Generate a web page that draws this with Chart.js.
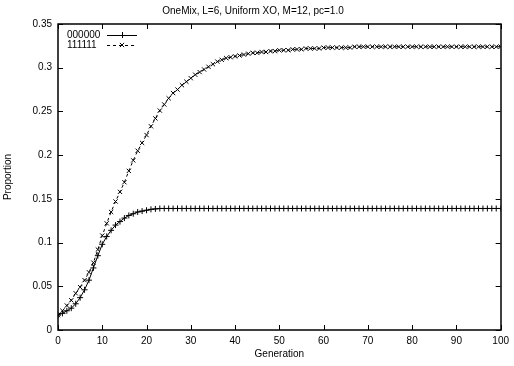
<!DOCTYPE html>
<html>
<head>
<meta charset="utf-8">
<script src="https://cdn.jsdelivr.net/npm/chart.js@4/dist/chart.umd.min.js"></script>
<style>
  html, body { margin: 0; padding: 0; background: #fff; }
  #wrap { width: 514px; height: 366px; }
</style>
</head>
<body>
<div id="wrap"><canvas id="myChart" width="514" height="366"></canvas></div>
<script>
const generations = [
  0, 1, 2, 3, 4, 5, 6, 7, 8, 9, 10, 11, 12, 13, 14, 15, 16, 17, 18, 19,
  20, 21, 22, 23, 24, 25, 26, 27, 28, 29, 30, 31, 32, 33, 34, 35, 36, 37, 38, 39,
  40, 41, 42, 43, 44, 45, 46, 47, 48, 49, 50, 51, 52, 53, 54, 55, 56, 57, 58, 59,
  60, 61, 62, 63, 64, 65, 66, 67, 68, 69, 70, 71, 72, 73, 74, 75, 76, 77, 78, 79,
  80, 81, 82, 83, 84, 85, 86, 87, 88, 89, 90, 91, 92, 93, 94, 95, 96, 97, 98, 99, 100
];

const zeros = [
  0.017, 0.019, 0.022, 0.025, 0.030, 0.037, 0.046, 0.057, 0.071, 0.085,
  0.098, 0.107, 0.114, 0.120, 0.124, 0.128, 0.131, 0.133, 0.135, 0.136,
  0.137, 0.138, 0.1385, 0.139, 0.139, 0.139, 0.139, 0.139, 0.139, 0.139,
  0.139, 0.139, 0.139, 0.139, 0.139, 0.139, 0.139, 0.139, 0.139, 0.139,
  0.139, 0.139, 0.139, 0.139, 0.139, 0.139, 0.139, 0.139, 0.139, 0.139,
  0.139, 0.139, 0.139, 0.139, 0.139, 0.139, 0.139, 0.139, 0.139, 0.139,
  0.139, 0.139, 0.139, 0.139, 0.139, 0.139, 0.139, 0.139, 0.139, 0.139,
  0.139, 0.139, 0.139, 0.139, 0.139, 0.139, 0.139, 0.139, 0.139, 0.139,
  0.139, 0.139, 0.139, 0.139, 0.139, 0.139, 0.139, 0.139, 0.139, 0.139,
  0.139, 0.139, 0.139, 0.139, 0.139, 0.139, 0.139, 0.139, 0.139, 0.139, 0.139
];

const ones = [
  0.017, 0.022, 0.028, 0.034, 0.042, 0.049, 0.057, 0.066, 0.077, 0.092,
  0.108, 0.122, 0.135, 0.147, 0.158, 0.169, 0.182, 0.194, 0.205, 0.214,
  0.223, 0.233, 0.242, 0.251, 0.258, 0.265, 0.271, 0.275, 0.280, 0.284,
  0.288, 0.292, 0.295, 0.298, 0.301, 0.304, 0.307, 0.309, 0.311, 0.312,
  0.313, 0.314, 0.315, 0.316, 0.317, 0.317, 0.318, 0.318, 0.319, 0.319,
  0.320, 0.320, 0.320, 0.321, 0.321, 0.321, 0.322, 0.322, 0.322, 0.322,
  0.323, 0.323, 0.323, 0.323, 0.323, 0.323, 0.323, 0.324, 0.324, 0.324,
  0.324, 0.324, 0.324, 0.324, 0.324, 0.324, 0.324, 0.324, 0.324, 0.324,
  0.324, 0.324, 0.324, 0.324, 0.324, 0.324, 0.324, 0.324, 0.324, 0.324,
  0.324, 0.324, 0.324, 0.324, 0.324, 0.324, 0.324, 0.324, 0.324, 0.324, 0.324
];

const xTickValues = [0, 10, 20, 30, 40, 50, 60, 70, 80, 90, 100];
const yTickValues = [0, 0.05, 0.1, 0.15, 0.2, 0.25, 0.3, 0.35];
const yTickLabels = ["0", "0.05", "0.1", "0.15", "0.2", "0.25", "0.3", "0.35"];

const FONT = "'Liberation Sans', Arial, Helvetica, sans-serif";
Chart.defaults.font.family = FONT;
Chart.defaults.font.size = 10;
Chart.defaults.color = "#000";

// gnuplot style frame: box round the plot, ticks pointing inward on all sides
const framePlugin = {
  id: "frame",
  afterDatasetsDraw(chart) {
    const ctx = chart.ctx;
    const a = chart.chartArea;
    const xs = chart.scales.x;
    const ys = chart.scales.y;
    const len = 5;
    ctx.save();
    ctx.strokeStyle = "#000";
    ctx.lineWidth = 1;
    ctx.setLineDash([]);
    ctx.beginPath();
    xTickValues.forEach(v => {
      const px = Math.round(xs.getPixelForValue(v)) + 0.5;
      ctx.moveTo(px, a.bottom); ctx.lineTo(px, a.bottom - len);
      ctx.moveTo(px, a.top); ctx.lineTo(px, a.top + len);
    });
    yTickValues.forEach(v => {
      const py = Math.round(ys.getPixelForValue(v)) + 0.5;
      ctx.moveTo(a.left, py); ctx.lineTo(a.left + len, py);
      ctx.moveTo(a.right, py); ctx.lineTo(a.right - len, py);
    });
    ctx.stroke();
    ctx.lineWidth = 1.5;
    ctx.strokeRect(Math.round(a.left), Math.round(a.top), Math.round(a.right - a.left), Math.round(a.bottom - a.top));
    ctx.restore();
  }
};

// key inside the plot, top left
const keyPlugin = {
  id: "key",
  afterDraw(chart) {
    const ctx = chart.ctx;
    const a = chart.chartArea;
    ctx.save();
    ctx.font = "10px " + FONT;
    ctx.fillStyle = "#000";
    ctx.textBaseline = "middle";
    ctx.textAlign = "left";
    chart.data.datasets.forEach((ds, i) => {
      const y = a.top + 11 + i * 10;
      ctx.fillText(ds.label, a.left + 9, y);
      const x0 = a.left + 49, x1 = a.left + 79, xm = (x0 + x1) / 2;
      ctx.strokeStyle = "#000";
      ctx.lineWidth = 1;
      ctx.setLineDash(ds.borderDash || []);
      ctx.beginPath();
      ctx.moveTo(x0, y + 0.5); ctx.lineTo(x1, y + 0.5);
      ctx.stroke();
      ctx.setLineDash([]);
      ctx.beginPath();
      const r = 3;
      if (ds.pointStyle === "cross") {
        ctx.moveTo(xm - r, y + 0.5); ctx.lineTo(xm + r, y + 0.5);
        ctx.moveTo(xm + 0.5, y - r); ctx.lineTo(xm + 0.5, y + r);
      } else {
        ctx.moveTo(xm - r * 0.7, y - r * 0.7); ctx.lineTo(xm + r * 0.7, y + r * 0.7);
        ctx.moveTo(xm - r * 0.7, y + r * 0.7); ctx.lineTo(xm + r * 0.7, y - r * 0.7);
      }
      ctx.stroke();
    });
    ctx.restore();
  }
};

const ctx = document.getElementById("myChart").getContext("2d");
new Chart(ctx, {
  type: "line",
  data: {
    labels: generations,
    datasets: [
      {
        label: "000000",
        data: zeros,
        borderColor: "#000",
        borderWidth: 1,
        pointStyle: "cross",
        pointRadius: 3,
        pointBorderColor: "#000",
        pointBorderWidth: 1,
        tension: 0,
        fill: false
      },
      {
        label: "111111",
        data: ones,
        borderColor: "#000",
        borderWidth: 1,
        borderDash: [3, 3],
        pointStyle: "crossRot",
        pointRadius: 3,
        pointBorderColor: "#000",
        pointBorderWidth: 1,
        tension: 0,
        fill: false
      }
    ]
  },
  options: {
    responsive: false,
    animation: false,
    events: [],
    layout: { padding: { top: 0, right: 8, left: 0, bottom: 0 } },
    plugins: {
      legend: { display: false },
      tooltip: { enabled: false },
      title: {
        display: true,
        text: "OneMix, L=6, Uniform XO, M=12, pc=1.0",
        font: { size: 10, weight: "normal" },
        color: "#000",
        padding: { top: 5, bottom: 7 }
      }
    },
    scales: {
      x: {
        type: "linear",
        min: 0,
        max: 100,
        afterBuildTicks: s => { s.ticks = xTickValues.map(v => ({ value: v })); },
        afterFit: s => { s.height = 36; },
        grid: { display: false, drawTicks: false },
        border: { display: false },
        ticks: { padding: 5, maxRotation: 0, autoSkip: false },
        title: { display: true, text: "Generation", padding: { top: 0, bottom: 6 } }
      },
      y: {
        min: 0,
        max: 0.35,
        afterBuildTicks: s => { s.ticks = yTickValues.map(v => ({ value: v })); },
        afterFit: s => { s.width = 58; },
        grid: { display: false, drawTicks: false },
        border: { display: false },
        ticks: { padding: 6, autoSkip: false, callback: (v, i) => yTickLabels[i] },
        title: { display: true, text: "Proportion", padding: { top: 2, bottom: 0 } }
      }
    }
  },
  plugins: [framePlugin, keyPlugin]
});
</script>
</body>
</html>
